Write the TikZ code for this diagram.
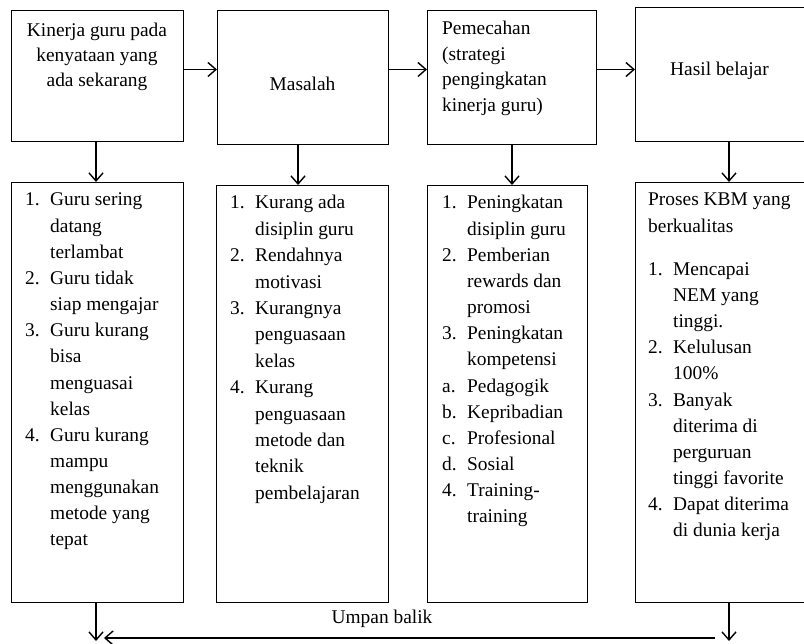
\documentclass[tikz,border=0pt]{standalone}
\usepackage{fontspec}
\setmainfont{Liberation Serif}
\usetikzlibrary{arrows.meta}
\newcommand\nb[1]{\makebox[25pt][l]{#1}}
\begin{document}
\begin{tikzpicture}[x=1pt,y=-1pt,
  box/.style={draw,line width=1.4pt,rectangle,inner sep=0pt,anchor=north west},
  arr/.style={line width=1.4pt,-{Straight Barb[length=8pt,width=14pt]}},
  txt/.style={inner sep=0pt,anchor=base west,font=\fontsize{19.4}{26.15}\selectfont},
  ctxt/.style={inner sep=0pt,anchor=base,font=\fontsize{19.4}{25}\selectfont}]
\useasboundingbox (0,0) rectangle (804,644);
\fill[white] (0,0) rectangle (804,644);
% top boxes
\node[box,minimum width=172pt,minimum height=131pt] (t1) at (11,10) {};
\node[box,minimum width=171pt,minimum height=134pt] (t2) at (217,10) {};
\node[box,minimum width=169pt,minimum height=134pt] (t3) at (427,10) {};
\node[box,minimum width=185pt,minimum height=134pt] (t4) at (635,7) {};
% bottom boxes
\node[box,minimum width=172pt,minimum height=420pt] (b1) at (11,182) {};
\node[box,minimum width=172pt,minimum height=417pt] (b2) at (216,185) {};
\node[box,minimum width=160pt,minimum height=417pt] (b3) at (427,185) {};
\node[box,minimum width=185pt,minimum height=420pt] (b4) at (635,182) {};
% top texts
\node[ctxt] (t1t) at (97,36.7) {\begin{tabular}[t]{@{}c@{}}Kinerja guru pada\\kenyataan yang\\ada sekarang\end{tabular}};
\node[ctxt] (t2t) at (302.5,91) {Masalah};
\node[txt,font=\fontsize{19.4}{25.5}\selectfont] (t3t) at (442,35) {\begin{tabular}[t]{@{}l@{}}Pemecahan\\(strategi\\pengingkatan\\kinerja guru)\end{tabular}};
\node[txt] (t4t) at (670,76) {Hasil belajar};
% lists
\node[txt] (b1t) at (25,206) {\begin{tabular}[t]{@{}l@{}l@{}}
\nb{1.} & Guru sering\\ & datang\\ & terlambat\\
\nb{2.} & Guru tidak\\ & siap mengajar\\
\nb{3.} & Guru kurang\\ & bisa\\ & menguasai\\ & kelas\\
\nb{4.} & Guru kurang\\ & mampu\\ & menggunakan\\ & metode yang\\ & tepat
\end{tabular}};
\node[txt,font=\fontsize{19.4}{26.4}\selectfont] (b2t) at (230,209) {\begin{tabular}[t]{@{}l@{}l@{}}
\nb{1.} & Kurang ada\\ & disiplin guru\\
\nb{2.} & Rendahnya\\ & motivasi\\
\nb{3.} & Kurangnya\\ & penguasaan\\ & kelas\\
\nb{4.} & Kurang\\ & penguasaan\\ & metode dan\\ & teknik\\ & pembelajaran
\end{tabular}};
\node[txt] (b3t) at (442,209) {\begin{tabular}[t]{@{}l@{}l@{}}
\nb{1.} & Peningkatan\\ & disiplin guru\\
\nb{2.} & Pemberian\\ & rewards dan\\ & promosi\\
\nb{3.} & Peningkatan\\ & kompetensi\\
\nb{a.} & Pedagogik\\
\nb{b.} & Kepribadian\\
\nb{c.} & Profesional\\
\nb{d.} & Sosial\\
\nb{4.} & Training-\\ & training
\end{tabular}};
\node[txt] (b4t) at (648,206) {\begin{tabular}[t]{@{}l@{}l@{}}
\multicolumn{2}{@{}l@{}}{Proses KBM yang}\\
\multicolumn{2}{@{}l@{}}{berkualitas}\\[17pt]
\nb{1.} & Mencapai\\ & NEM yang\\ & tinggi.\\
\nb{2.} & Kelulusan\\ & 100\%\\
\nb{3.} & Banyak\\ & diterima di\\ & perguruan\\ & tinggi favorite\\
\nb{4.} & Dapat diterima\\ & di dunia kerja
\end{tabular}};
\node[ctxt] (fb) at (382,623) {Umpan balik};
% connectors
\coordinate (hy) at (0,69.5);
\coordinate (x1) at (96,0);
\coordinate (x2) at (298,0);
\coordinate (x3) at (512,0);
\coordinate (x4) at (729,0);
\draw[arr] (t1.east |- hy) -- (t2.west |- hy);
\draw[arr] (t2.east |- hy) -- (t3.west |- hy);
\draw[arr] (t3.east |- hy) -- (t4.west |- hy);
\draw[arr] (t1.south -| x1) -- (b1.north -| x1);
\draw[arr] (t2.south -| x2) -- (b2.north -| x2);
\draw[arr] (t3.south -| x3) -- (b3.north -| x3);
\draw[arr] (t4.south -| x4) -- (b4.north -| x4);
\coordinate (d1) at (96,641);
\coordinate (d4) at (729,641);
\coordinate (fbR) at (715,638);
\coordinate (fbL) at (104,638);
\draw[arr] (b1.south -| x1) -- (d1);
\draw[arr] (b4.south -| x4) -- (d4);
\draw[arr] (fbR) -- (fbL);
\end{tikzpicture}
\end{document}
